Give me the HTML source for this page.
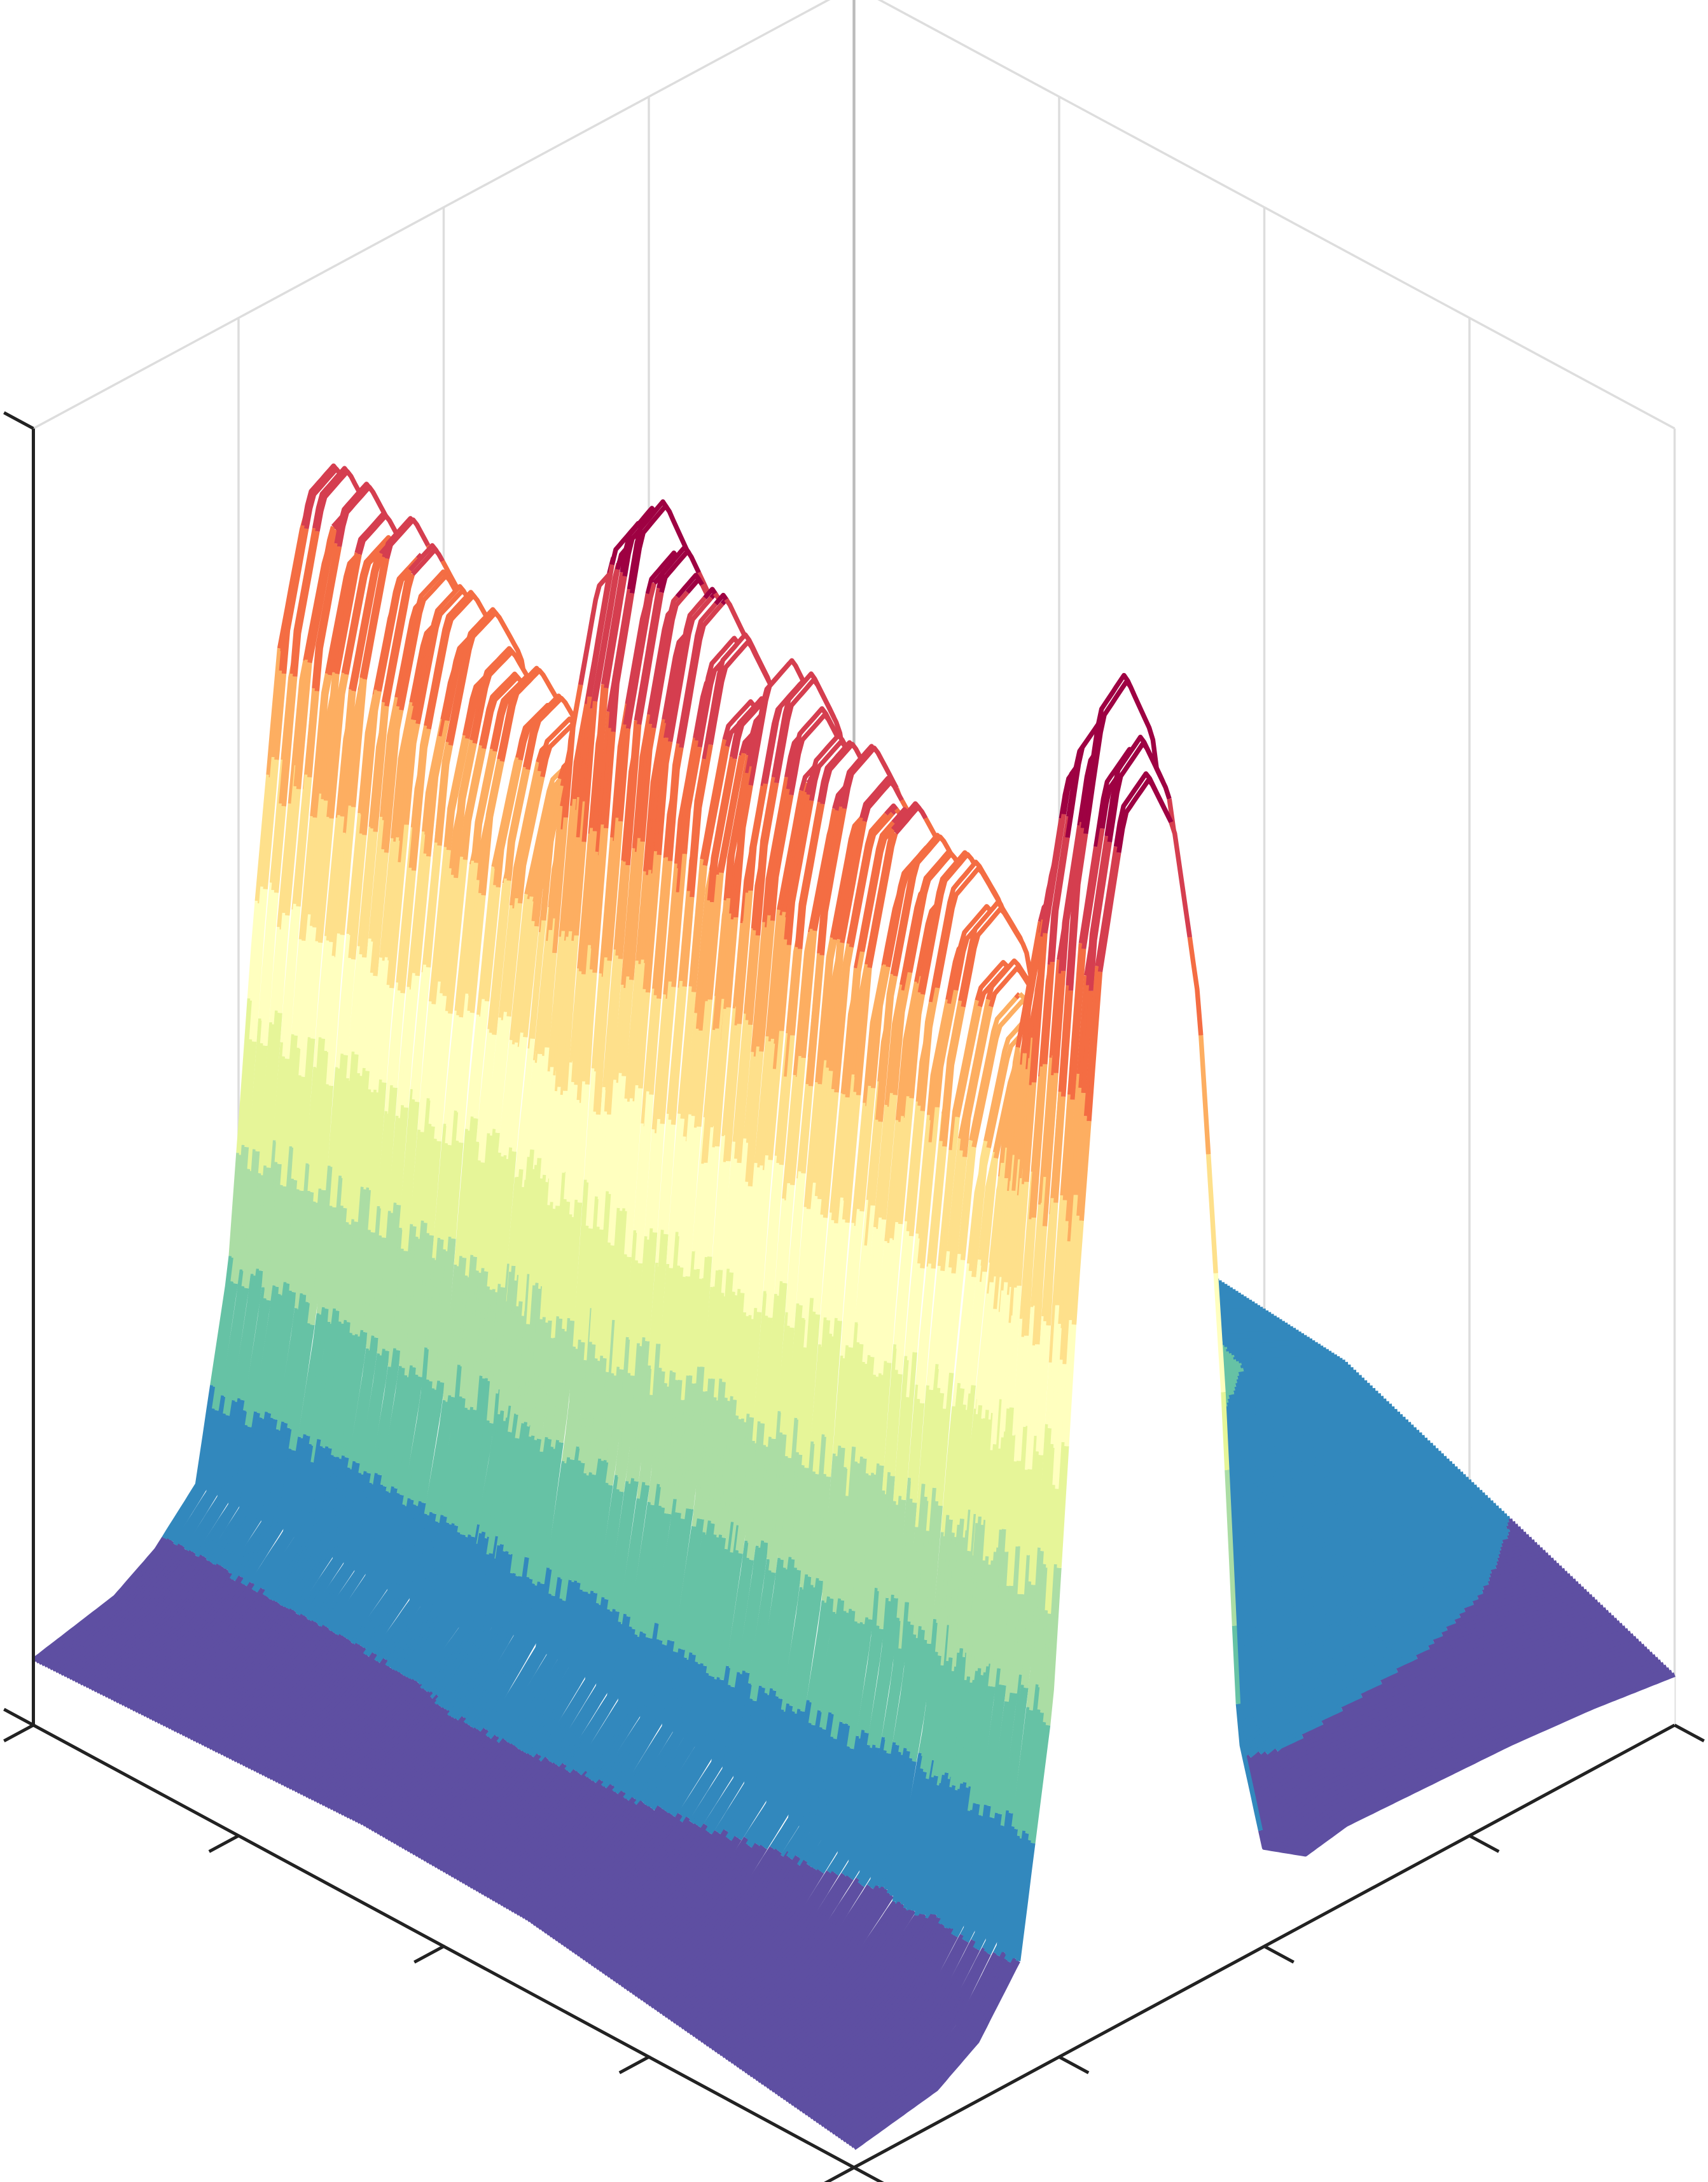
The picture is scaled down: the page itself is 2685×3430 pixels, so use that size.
<!DOCTYPE html>
<html><head><meta charset="utf-8"><style>
html,body{margin:0;padding:0;background:#fff;}
svg{display:block;}
</style></head><body>
<svg id="chart" width="2685" height="3430" viewBox="0 0 1228 1568.4" preserveAspectRatio="none" xmlns="http://www.w3.org/2000/svg">
<g id="grid"></g>
<g id="surface"></g>
<g id="axes"></g>
</svg>
<script>
// ridge height (fraction of z range) along the series axis
const ridgeS = [0,.05,.12,.17,.24,.29,.32,.36,.39,.44,.49,.53,.58,.63,.68,.73,.78,.83,.87,.9,.93,.97,1];
const ridgeH = [.80,.78,.78,.75,.72,.71,.68,.83,.90,.87,.84,.79,.84,.79,.79,.77,.77,.72,.67,.80,.91,.96,.93];
// wall profile along the sample axis
const wallT = [0,.1,.15,.2,.24,.27,.3,.33,.36,.39,.42,.45,.47,.5,.55,1];
const wallV = [0,.01,.03,.08,.28,.6,.86,.98,1,.95,.8,.45,.15,.03,0,0];
// tail profile along sample axis and tail amplitude along series axis
const tailT = [0,.15,.3,.42,.5,.6,.7,.8,.9,1];
const tailV = [.25,.3,.2,.1,.8,1,.95,.9,.8,.65];
const tailS = [0,.2,.4,.6,.75,.85,.95,1];
const tailA = [.2,.22,.24,.22,.16,.12,.08,.06];
const jitter = [0,.03,-.02,.04,-.01,.02,-.03,.05,0,-.02,.03,.01,-.04,.02,0,.04,-.02,.01,-.03,.03,0,.02,-.01];
const colors = ["#5e4fa2","#3288bd","#66c2a5","#abdda4","#e6f598","#ffffbf","#fee08b","#fdae61","#f46d43","#d53e4f","#9e0142"];

const NS="http://www.w3.org/2000/svg";
const L=[24,1240],F=[614,1558],R=[1204,1240],ZH=932;
function P(s,t,h){return [L[0]+s*(F[0]-L[0])+t*(R[0]-F[0]), L[1]+s*(F[1]-L[1])+t*(R[1]-F[1])-h*ZH];}
function interp(xs,ys,x){if(x<=xs[0])return ys[0];for(let i=1;i<xs.length;i++){if(x<=xs[i]){const f=(x-xs[i-1])/(xs[i]-xs[i-1]);return ys[i-1]+f*(ys[i]-ys[i-1]);}}return ys[ys.length-1];}
function line(g,x1,y1,x2,y2,c,w,name){const l=document.createElementNS(NS,'line');l.setAttribute('x1',x1);l.setAttribute('y1',y1);l.setAttribute('x2',x2);l.setAttribute('y2',y2);l.setAttribute('stroke',c);l.setAttribute('stroke-width',w);


g.appendChild(l);}

// grid
const grid=document.getElementById('grid');
const B=[L[0]+R[0]-F[0], L[1]+R[1]-F[1]];
for(let k=0;k<=4;k++){
  const f=k/4;
  const x=L[0]+f*(B[0]-L[0]), y=L[1]+f*(B[1]-L[1]);
  line(grid,x,y,x,y-ZH,k==4?'#bbb':'#ddd',k==4?2:1.6,'back-wall-gridline');
  const x2=B[0]+f*(R[0]-B[0]), y2=B[1]+f*(R[1]-B[1]);
  line(grid,x2,y2,x2,y2-ZH,'#ddd',1.6,'side-wall-gridline');
  const a=P(f,0,0), b=P(f,1,0);
  line(grid,a[0],a[1],b[0],b[1],'#ddd',1.6,'floor-gridline');
  const c=[F[0]+f*(R[0]-F[0]),F[1]+f*(R[1]-F[1])];
  line(grid,c[0],c[1],c[0]+L[0]-F[0],c[1]+L[1]-F[1],'#ddd',1.6,'floor-gridline');
}
line(grid,L[0],L[1]-ZH,B[0],B[1]-ZH,'#ddd',1.6,'wall-top-edge');
line(grid,B[0],B[1]-ZH,R[0],R[1]-ZH,'#ddd',1.6,'wall-top-edge');

// surface
const surf=document.getElementById('surface');
const N=300,M=220;
for(let i=0;i<N;i++){
  const s=i/(N-1);
  const j=jitter[Math.floor(i/2)%jitter.length];
  const rh=interp(ridgeS,ridgeH,s)*(1+j);
  const ta=interp(tailS,tailA,s);
  const pts=[],hs=[];
  for(let k=0;k<=M;k++){
    const t=k/M;
    const h=rh*interp(wallT,wallV,t)+ta*interp(tailT,tailV,t);
    hs.push(h);pts.push(P(s,t,h));
  }
  const g=document.createElementNS(NS,'g');
  
  
  const b0=P(s,0,0),b1=P(s,1,0);
  const poly=document.createElementNS(NS,'polygon');
  poly.setAttribute('points',pts.map(p=>p[0].toFixed(1)+','+p[1].toFixed(1)).join(' ')+' '+b1[0]+','+b1[1]+' '+b0[0]+','+b0[1]);
  poly.setAttribute('fill','#fff');
  
  
  g.appendChild(poly);
  let run=[pts[0]],band=-1;
  const flush=(bd)=>{if(run.length<2)return;const pl=document.createElementNS(NS,'polyline');pl.setAttribute('points',run.map(p=>p[0].toFixed(1)+','+p[1].toFixed(1)).join(' '));pl.setAttribute('fill','none');pl.setAttribute('stroke',colors[bd]);pl.setAttribute('stroke-width','3.4');pl.setAttribute('stroke-linejoin','round');
    
    
    g.appendChild(pl);};
  for(let k=1;k<=M;k++){
    const hm=(hs[k]+hs[k-1])/2;
    const bd=Math.max(0,Math.min(10,Math.floor(hm*11)));
    if(band===-1)band=bd;
    if(bd!==band){flush(band);run=[pts[k-1]];band=bd;}
    run.push(pts[k]);
  }
  flush(band);
  surf.appendChild(g);
}

// axes
const ax=document.getElementById('axes');
const K='#222',W=2.3;
line(ax,L[0],L[1],F[0],F[1],K,W,'y-axis-line');
line(ax,F[0],F[1],R[0],R[1],K,W,'x-axis-line');
line(ax,L[0],L[1],L[0],L[1]-ZH,K,W,'z-axis-line');
const ux=(R[0]-F[0]),uy=(R[1]-F[1]),ul=Math.hypot(ux,uy);
const vx=(F[0]-L[0]),vy=(F[1]-L[1]),vl=Math.hypot(vx,vy);
const TL=24;
for(let k=0;k<=4;k++){
  const f=k/4;
  const a=[L[0]+f*vx,L[1]+f*vy];
  line(ax,a[0],a[1],a[0]-ux/ul*TL,a[1]-uy/ul*TL,K,W,'y-axis-tick');
  const c=[F[0]+f*ux,F[1]+f*uy];
  line(ax,c[0],c[1],c[0]+vx/vl*TL,c[1]+vy/vl*TL,K,W,'x-axis-tick');
}
line(ax,L[0],L[1]-ZH,L[0]-vx/vl*TL,L[1]-ZH-vy/vl*TL,K,W,'z-axis-tick');
line(ax,L[0],L[1],L[0]-vx/vl*TL,L[1]-vy/vl*TL,K,W,'z-axis-tick');
</script>
</body></html>
